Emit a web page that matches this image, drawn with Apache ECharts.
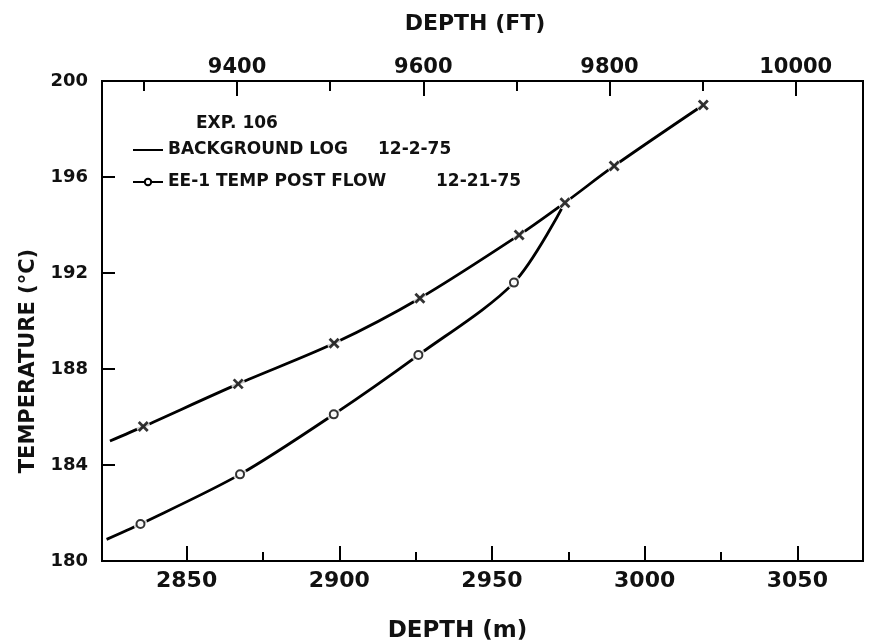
<!DOCTYPE html>
<html>
<head>
<meta charset="utf-8">
<script src="https://cdn.jsdelivr.net/npm/echarts@6/dist/echarts.min.js"></script>
<style>
html, body { margin: 0; padding: 0; background: #ffffff; }
#chart { width: 869px; height: 644px; }
</style>
</head>
<body>
<div id="chart"></div>
<script>
// ---- data ----
const bgDepth = [2835.8, 2866.9, 2898.3, 2926.4, 2958.9, 2973.9, 2990.0, 3019.2];
const bgTemp  = [185.60, 187.38, 189.07, 190.95, 193.58, 194.93, 196.46, 199.00];
const pfDepth = [2834.9, 2867.5, 2898.2, 2925.9, 2957.2, 2973.9];
const pfTemp  = [181.54, 183.61, 186.11, 188.58, 191.60, 194.93];
// where each curve enters the plot at the left frame
const bgEdge = [2824.9, 185.0];
const pfEdge = [2823.8, 180.9];

const seriesNames = ['BACKGROUND LOG', 'EE-1 TEMP POST FLOW'];
const seriesDates = ['12-2-75', '12-21-75'];
const expLabel = 'EXP. 106';

const meterMajor = [2850, 2900, 2950, 3000, 3050];
const meterMinor = [2875, 2925, 2975, 3025];
const feetMajor  = [9400, 9600, 9800, 10000];
const feetMinor  = [9300, 9500, 9700, 9900];

const FONT = 'DejaVu Sans';
const INK = '#111111';

const meterRange = { min: 2822.3, max: 3071.5 };
const feetRange  = { min: 9254.9, max: 10072.3 };

const toPairs = (xs, ys) => xs.map((x, i) => [x, ys[i]]);
const bgPoints = toPairs(bgDepth, bgTemp);
const pfPoints = toPairs(pfDepth, pfTemp);

const X_SYMBOL = 'path://M0,0L10,10M10,0L0,10';
const plain = v => String(v);

const chart = echarts.init(document.getElementById('chart'), null, { renderer: 'canvas' });

const txt = (size) => ({ fontFamily: FONT, fontSize: size, fontWeight: 'bold', color: INK });

const option = {
  backgroundColor: '#ffffff',
  animation: false,
  title: {
    text: expLabel,
    left: 196,
    top: 115,
    padding: 0,
    textStyle: txt(17)
  },
  legend: {
    orient: 'vertical',
    left: 132,
    top: 139,
    padding: 0,
    itemWidth: 30,
    itemHeight: 8,
    itemGap: 10,
    selectedMode: false,
    data: [
      { name: seriesNames[0], itemStyle: { opacity: 0 } },
      { name: seriesNames[1] }
    ],
    formatter: function (name) {
      const i = seriesNames.indexOf(name);
      return '{n' + i + '|' + name + '}{d|' + seriesDates[i] + '}';
    },
    textStyle: Object.assign(txt(17), {
      lineHeight: 22,
      rich: {
        n0: Object.assign(txt(17), { width: 210 }),
        n1: Object.assign(txt(17), { width: 268 }),
        d: txt(17)
      }
    })
  },
  grid: {
    left: 102, right: 6, top: 81, bottom: 83,
    containLabel: false,
    outerBoundsMode: 'none',
    show: true, borderColor: '#000', borderWidth: 2, backgroundColor: 'transparent'
  },
  xAxis: [
    {
      type: 'value', position: 'bottom',
      min: meterRange.min, max: meterRange.max,
      name: 'DEPTH (m)', nameLocation: 'middle', nameGap: 59,
      nameTextStyle: Object.assign(txt(23), { padding: [0, 50, 0, 0] }),
      axisLine: { show: true, lineStyle: { color: '#000', width: 2 } },
      axisTick: { show: true, inside: true, length: 15, customValues: meterMajor, lineStyle: { color: '#000', width: 2 } },
      axisLabel: Object.assign(txt(22), { customValues: meterMajor, margin: 9, formatter: plain }),
      splitLine: { show: false }
    },
    {
      type: 'value', position: 'top',
      min: feetRange.min, max: feetRange.max,
      name: 'DEPTH (FT)', nameLocation: 'middle', nameGap: 46,
      nameTextStyle: Object.assign(txt(22), { padding: [0, 15, 0, 0] }),
      axisLine: { show: true, lineStyle: { color: '#000', width: 2 } },
      axisTick: { show: true, inside: true, length: 15, customValues: feetMajor, lineStyle: { color: '#000', width: 2 } },
      axisLabel: Object.assign(txt(21), { customValues: feetMajor, margin: 3, formatter: plain }),
      splitLine: { show: false }
    },
    {
      type: 'value', position: 'bottom',
      min: meterRange.min, max: meterRange.max,
      axisLine: { show: false },
      axisTick: { show: true, inside: true, length: 9, customValues: meterMinor, lineStyle: { color: '#000', width: 2 } },
      axisLabel: { show: false },
      splitLine: { show: false }
    },
    {
      type: 'value', position: 'top',
      min: feetRange.min, max: feetRange.max,
      axisLine: { show: false },
      axisTick: { show: true, inside: true, length: 10, customValues: feetMinor, lineStyle: { color: '#000', width: 2 } },
      axisLabel: { show: false },
      splitLine: { show: false }
    }
  ],
  yAxis: {
    type: 'value', min: 180, max: 200, interval: 4,
    name: 'TEMPERATURE (°C)', nameLocation: 'middle', nameGap: 62,
    nameTextStyle: Object.assign(txt(21), { padding: [0, 80, 0, 0] }),
    axisLine: { show: true, lineStyle: { color: '#000', width: 2 } },
    axisTick: { show: true, inside: true, length: 13, lineStyle: { color: '#000', width: 2 } },
    axisLabel: Object.assign(txt(18), { margin: 14, formatter: plain }),
    splitLine: { show: false }
  },
  series: [
    {
      name: seriesNames[0], type: 'line', xAxisIndex: 0, yAxisIndex: 0,
      data: [bgEdge].concat(bgPoints),
      smooth: 0.3, showSymbol: false, symbol: X_SYMBOL,
      lineStyle: { color: '#000', width: 2.8 },
      itemStyle: { color: '#000' },
      z: 2
    },
    {
      name: seriesNames[1], type: 'line', xAxisIndex: 0, yAxisIndex: 0,
      data: [pfEdge].concat(pfPoints),
      smooth: 0.3, showSymbol: false, symbol: 'emptyCircle',
      lineStyle: { color: '#000', width: 2.8 },
      itemStyle: { color: '#000' },
      z: 2
    },
    {
      name: 'gaps', type: 'scatter', xAxisIndex: 0, yAxisIndex: 0,
      data: bgPoints.concat(pfPoints),
      symbol: 'circle', symbolSize: 14, silent: true,
      itemStyle: { color: '#ffffff' },
      z: 3
    },
    {
      name: 'bgMarks', type: 'scatter', xAxisIndex: 0, yAxisIndex: 0,
      data: bgPoints, symbol: X_SYMBOL, symbolSize: 9, silent: true,
      itemStyle: { color: '#000', borderColor: '#000', borderWidth: 2.8 },
      z: 4
    },
    {
      name: 'pfMarks', type: 'scatter', xAxisIndex: 0, yAxisIndex: 0,
      data: pfPoints.slice(0, pfPoints.length - 1), symbol: 'emptyCircle', symbolSize: 8, silent: true,
      itemStyle: { color: '#000', borderColor: '#000', borderWidth: 2.2 },
      z: 4
    }
  ]
};

chart.setOption(option);
</script>
</body>
</html>
